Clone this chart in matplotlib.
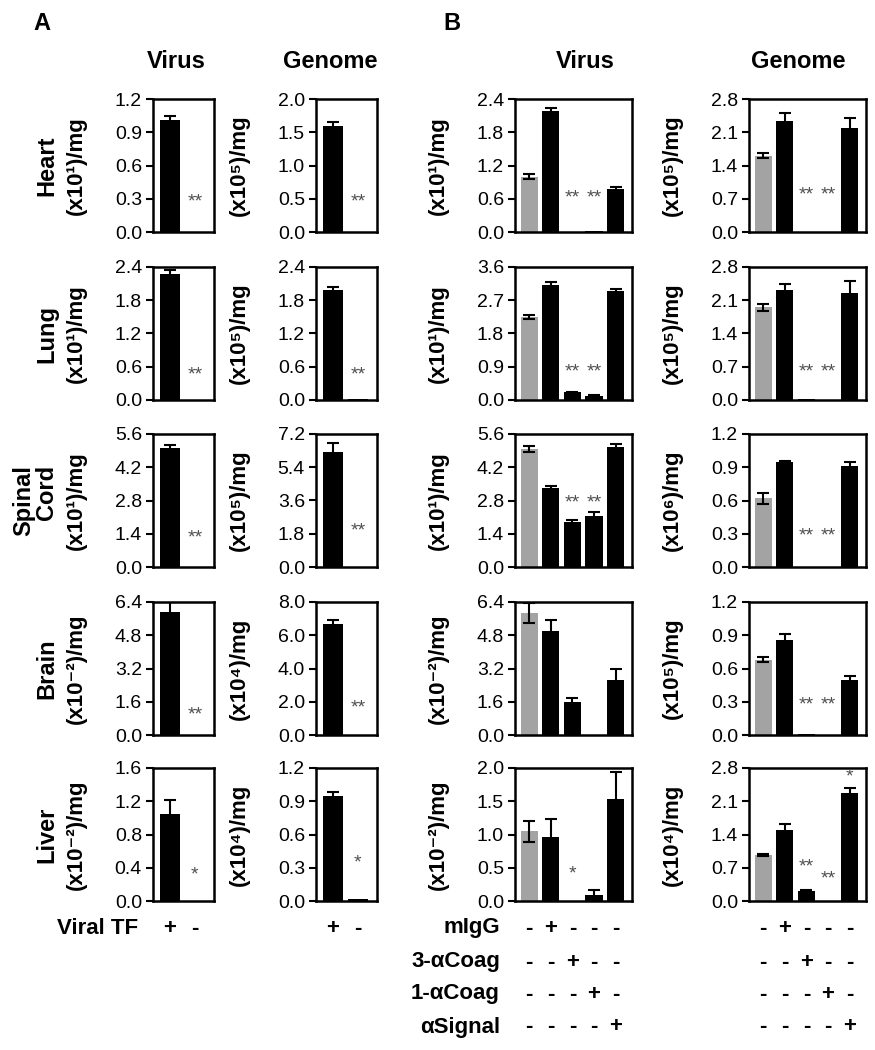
import matplotlib
matplotlib.use("Agg")
import matplotlib.pyplot as plt
from matplotlib.transforms import blended_transform_factory

plt.rcParams['font.family'] = ['Liberation Sans', 'DejaVu Sans']

# ---------------- data ----------------
ORGANS = ["Heart", "Lung", "Spinal\nCord", "Brain", "Liver"]

# Panel A: Viral TF +/-
A_VIRUS_MEAN = [[1.01, 0.0], [2.28, 0.0], [5.00, 0.0], [5.90, 0.0], [1.05, 0.0]]
A_VIRUS_ERR = [[0.04, 0.0], [0.06, 0.0], [0.12, 0.0], [0.50, 0.0], [0.17, 0.0]]
A_VIRUS_YMAX = [1.2, 2.4, 5.6, 6.4, 1.6]
A_VIRUS_UNIT = ["(x10¹)/mg", "(x10¹)/mg", "(x10¹)/mg", "(x10⁻²)/mg", "(x10⁻²)/mg"]
A_VIRUS_STARS = [["", "**"], ["", "**"], ["", "**"], ["", "**"], ["", "*"]]
A_VIRUS_STAR_Y = [[0, 0.27], [0, 0.46], [0, 1.23], [0, 0.96], [0, 0.31]]

A_GENOME_MEAN = [[1.60, 0.0], [1.98, 0.02], [6.20, 0.0], [6.70, 0.0], [0.95, 0.02]]
A_GENOME_ERR = [[0.05, 0.0], [0.06, 0.0], [0.50, 0.0], [0.20, 0.0], [0.03, 0.0]]
A_GENOME_YMAX = [2.0, 2.4, 7.2, 8.0, 1.2]
A_GENOME_UNIT = ["(x10⁵)/mg", "(x10⁵)/mg", "(x10⁵)/mg", "(x10⁴)/mg", "(x10⁴)/mg"]
A_GENOME_STARS = [["", "**"], ["", "**"], ["", "**"], ["", "**"], ["", "*"]]
A_GENOME_STAR_Y = [[0, 0.45], [0, 0.45], [0, 1.95], [0, 1.6], [0, 0.34]]

A_SIGNS = ["+", "-"]

# Panel B: mIgG / 3-aCoag / 1-aCoag / aSignal
B_VIRUS_MEAN = [[1.00, 2.18, 0.0, 0.02, 0.77],
                [2.25, 3.12, 0.21, 0.12, 2.95],
                [4.98, 3.33, 1.90, 2.16, 5.04],
                [5.87, 5.00, 1.60, 0.0, 2.66],
                [1.05, 0.96, 0.0, 0.09, 1.54]]
B_VIRUS_ERR = [[0.05, 0.06, 0.0, 0.0, 0.04],
               [0.05, 0.07, 0.02, 0.02, 0.06],
               [0.13, 0.07, 0.10, 0.15, 0.14],
               [0.50, 0.54, 0.18, 0.0, 0.52],
               [0.16, 0.27, 0.0, 0.07, 0.40]]
B_VIRUS_YMAX = [2.4, 3.6, 5.6, 6.4, 2.0]
B_VIRUS_UNIT = ["(x10¹)/mg", "(x10¹)/mg", "(x10¹)/mg", "(x10⁻²)/mg", "(x10⁻²)/mg"]
B_VIRUS_STARS = [["", "", "**", "**", ""],
                 ["", "", "**", "**", ""],
                 ["", "", "**", "**", ""],
                 ["", "", "", "", ""],
                 ["", "", "*", "", ""]]
B_VIRUS_STAR_Y = [[0, 0, 0.62, 0.62, 0],
                  [0, 0, 0.75, 0.75, 0],
                  [0, 0, 2.70, 2.70, 0],
                  [0, 0, 0, 0, 0],
                  [0, 0, 0.41, 0, 0]]

B_GENOME_MEAN = [[1.61, 2.33, 0.0, 0.0, 2.20],
                 [1.95, 2.32, 0.03, 0.0, 2.26],
                 [0.62, 0.95, 0.0, 0.0, 0.91],
                 [0.68, 0.86, 0.005, 0.0, 0.50],
                 [0.97, 1.50, 0.21, 0.01, 2.28]]
B_GENOME_ERR = [[0.05, 0.17, 0.0, 0.0, 0.21],
                [0.07, 0.13, 0.0, 0.0, 0.24],
                [0.05, 0.01, 0.0, 0.0, 0.04],
                [0.02, 0.05, 0.0, 0.0, 0.03],
                [0.02, 0.13, 0.02, 0.0, 0.10]]
B_GENOME_YMAX = [2.8, 2.8, 1.2, 1.2, 2.8]
B_GENOME_UNIT = ["(x10⁵)/mg", "(x10⁵)/mg", "(x10⁶)/mg", "(x10⁵)/mg", "(x10⁴)/mg"]
B_GENOME_STARS = [["", "", "**", "**", ""],
                  ["", "", "**", "**", ""],
                  ["", "", "**", "**", ""],
                  ["", "", "**", "**", ""],
                  ["", "", "**", "**", "*"]]
B_GENOME_STAR_Y = [[0, 0, 0.77, 0.77, 0],
                   [0, 0, 0.58, 0.58, 0],
                   [0, 0, 0.28, 0.28, 0],
                   [0, 0, 0.27, 0.27, 0],
                   [0, 0, 0.71, 0.46, 2.62]]

B_ROW_LABELS = ["mIgG", "3-αCoag", "1-αCoag", "αSignal"]
B_SIGNS = [["-", "+", "-", "-", "-"],
           ["-", "-", "+", "-", "-"],
           ["-", "-", "-", "+", "-"],
           ["-", "-", "-", "-", "+"]]

# ---------------- layout ----------------
W, H = 875, 1050
fig = plt.figure(figsize=(W / 100, H / 100), dpi=100)

ROW_TOPS = [99, 267, 434, 602, 768]
AX_H = 133
COLS = [  # left px, width px
    (153, 61),
    (316, 61),
    (515, 117),
    (749, 117),
]
GRAY = "#a3a3a3"
STAR_COLOR = "#505050"


def fx(px):
    return px / W


def fy(py):
    return 1 - py / H


def draw(ax, means, errs, ymax, unit, stars, star_y, first_gray):
    n = len(means)
    x = list(range(n))
    colors = ["black"] * n
    if first_gray:
        colors[0] = GRAY
    ax.bar(x, means, width=0.8, color=colors, zorder=2)
    for xi, m, e in zip(x, means, errs):
        if e > 0:
            ax.errorbar(xi, m, yerr=e, fmt="none", ecolor="black", elinewidth=1.5,
                        capsize=4, capthick=1.5, zorder=3)
    for xi, s, sy in zip(x, stars, star_y):
        if s:
            ax.text(xi, sy, s, ha="center", va="center", fontsize=14,
                    color=STAR_COLOR, zorder=4)
    ax.set_xlim(-0.66, n - 1 + 0.76)
    ax.set_ylim(0, ymax)
    ticks = [ymax * i / 4 for i in range(5)]
    ax.set_yticks(ticks)
    ax.set_yticklabels([f"{t:.1f}" for t in ticks])
    ax.set_xticks([])
    ax.tick_params(axis="y", direction="out", length=5, width=1.5, labelsize=14, pad=3)
    for sp in ax.spines.values():
        sp.set_linewidth(1.8)
    ax.set_ylabel(unit, fontsize=16, fontweight="bold")


panels = [
    (A_VIRUS_MEAN, A_VIRUS_ERR, A_VIRUS_YMAX, A_VIRUS_UNIT, A_VIRUS_STARS, A_VIRUS_STAR_Y, False),
    (A_GENOME_MEAN, A_GENOME_ERR, A_GENOME_YMAX, A_GENOME_UNIT, A_GENOME_STARS, A_GENOME_STAR_Y, False),
    (B_VIRUS_MEAN, B_VIRUS_ERR, B_VIRUS_YMAX, B_VIRUS_UNIT, B_VIRUS_STARS, B_VIRUS_STAR_Y, True),
    (B_GENOME_MEAN, B_GENOME_ERR, B_GENOME_YMAX, B_GENOME_UNIT, B_GENOME_STARS, B_GENOME_STAR_Y, True),
]

bottom_axes = []
for c, (left, width) in enumerate(COLS):
    mean, err, ymax, unit, stars, sy, gray = panels[c]
    for r in range(len(ORGANS)):
        top = ROW_TOPS[r]
        ax = fig.add_axes([fx(left), fy(top + AX_H), fx(width), AX_H / H])
        draw(ax, mean[r], err[r], ymax[r], unit[r], stars[r], sy[r], gray)
        ax.yaxis.set_label_coords(-66 / width, 0.5)
        if r == len(ORGANS) - 1:
            bottom_axes.append(ax)

# row labels
for r, name in enumerate(ORGANS):
    fig.text(fx(58), fy(ROW_TOPS[r] + AX_H / 2), name, rotation=90, ha="right",
             va="center", fontsize=17, fontweight="bold", linespacing=1.0)

# column titles and panel letters
TITLE_FS = 17
fig.text(fx(176), fy(62), "Virus", ha="center", va="center", fontsize=TITLE_FS, fontweight="bold")
fig.text(fx(330), fy(62), "Genome", ha="center", va="center", fontsize=TITLE_FS, fontweight="bold")
fig.text(fx(585), fy(62), "Virus", ha="center", va="center", fontsize=TITLE_FS, fontweight="bold")
fig.text(fx(798), fy(62), "Genome", ha="center", va="center", fontsize=TITLE_FS, fontweight="bold")
fig.text(fx(42), fy(23), "A", ha="center", va="center", fontsize=TITLE_FS, fontweight="bold")
fig.text(fx(452), fy(23), "B", ha="center", va="center", fontsize=TITLE_FS, fontweight="bold")

# bottom sign rows
SIGN_FS = 16
for ci in (0, 1):
    ax = bottom_axes[ci]
    tr = blended_transform_factory(ax.transData, fig.transFigure)
    for i, s in enumerate(A_SIGNS):
        ax.text(i, fy(928), s, transform=tr, ha="center", va="center",
                fontsize=SIGN_FS, fontweight="bold", clip_on=False)
fig.text(fx(138), fy(928), "Viral TF", ha="right", va="center", fontsize=SIGN_FS, fontweight="bold")

ROW_Y = [928, 962, 994, 1027]
for ci in (2, 3):
    ax = bottom_axes[ci]
    tr = blended_transform_factory(ax.transData, fig.transFigure)
    for ri, signs in enumerate(B_SIGNS):
        for i, s in enumerate(signs):
            ax.text(i, fy(ROW_Y[ri]), s, transform=tr, ha="center", va="center",
                    fontsize=SIGN_FS, fontweight="bold", clip_on=False)
for ri, lab in enumerate(B_ROW_LABELS):
    fig.text(fx(500), fy(ROW_Y[ri]), lab, ha="right", va="center",
             fontsize=SIGN_FS, fontweight="bold")

fig.savefig("out.png", dpi=100)
